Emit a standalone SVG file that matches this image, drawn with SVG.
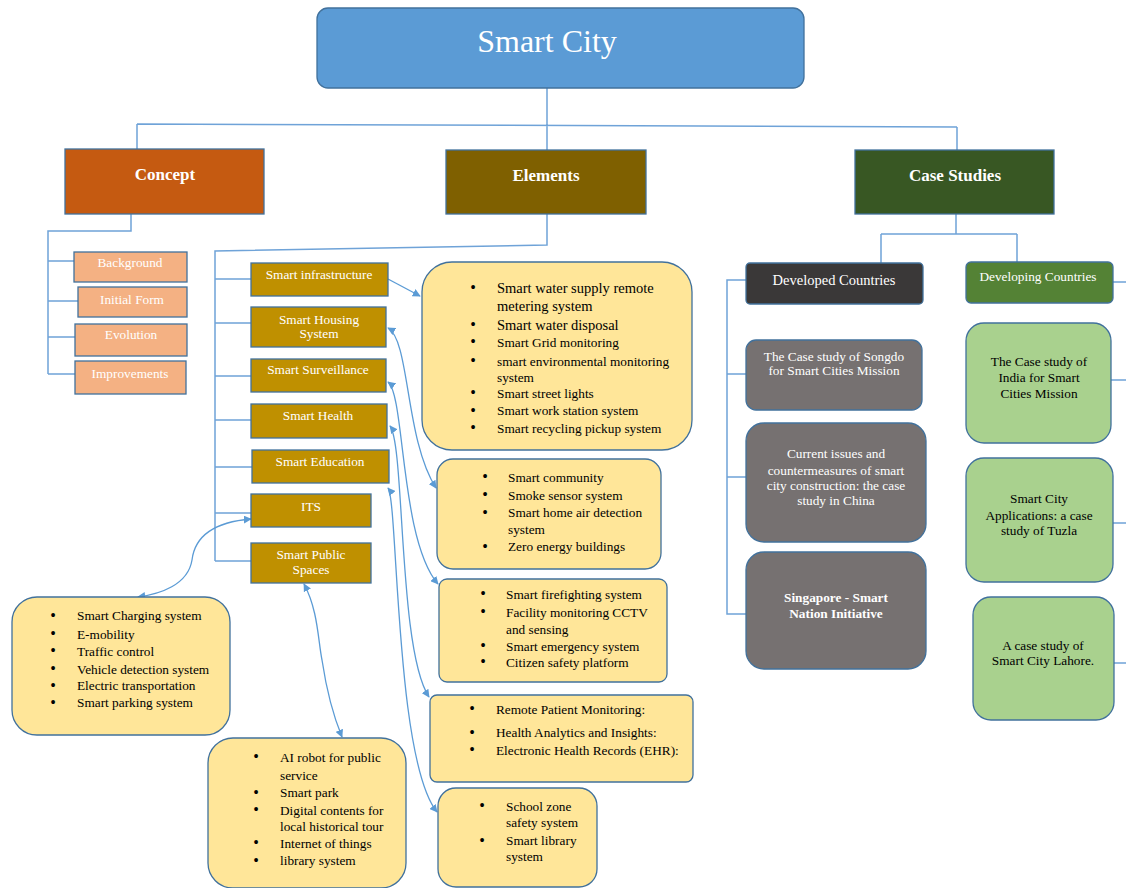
<svg xmlns="http://www.w3.org/2000/svg" width="1126" height="888" viewBox="0 0 1126 888">
<defs>
<marker id="arr" viewBox="0 0 10 10" refX="9" refY="5" markerWidth="8" markerHeight="8" markerUnits="userSpaceOnUse" orient="auto-start-reverse">
<path d="M0,0 L10,5 L0,10 Z" fill="#5B9BD5"/>
</marker>
<style>
text{font-family:"Liberation Serif","Times New Roman",serif}
.w{fill:#fff;text-anchor:middle;font-size:13.3px}
.b{fill:#000;font-size:13.3px}
.bl{fill:#000;font-size:16px;text-anchor:middle}
.c{fill:#000;text-anchor:middle;font-size:13.3px}
.hd{fill:#fff;text-anchor:middle;font-size:17px;font-weight:bold}
.nd{stroke:#41719C;stroke-width:1.3}
.tree{fill:none;stroke:#6FA3D8;stroke-width:1.5}
.cv{fill:none;stroke:#5B9BD5;stroke-width:1.3}
.el{fill:#BF9000}
.cs{fill:#F4B183}
.yl{fill:#FFE699}
.gr{fill:#767171}
.lg{fill:#A9D18E}
</style>
</defs>
<rect width="1126" height="888" fill="#fff"/>

<g id="connectors">
<path class="tree" d="M547,88 V125 M137,124 L957,127 M137,124 V149 M547,125 V150 M957,127 V150"/>
<path class="tree" d="M131,214 V231 H48 V374 M48,261 H74 M48,301 H78 M48,337 H75 M48,374 H75"/>
<path class="tree" d="M547,214 V245 L215,251 V561 M215,279 H251 M215,323 H251 M215,376 H251 M215,420 H251 M215,467 H252 M215,513 H251 M215,561 H251"/>
<path class="tree" d="M956,214 V234 M881,234 H1017 M881,234 V263 M1017,234 V262"/>
<path class="tree" d="M746,280 H727 V614 H746 M727,374 H746 M727,477 H746"/>
<path class="tree" d="M1113,282 H1126 M1111,380 H1126 M1113,523 H1126 M1114,663 H1126"/>
<path class="cv" d="M388,279 L420,296" marker-end="url(#arr)"/>
<path class="cv" d="M388,328 C410,340 405,440 436,488" marker-start="url(#arr)" marker-end="url(#arr)"/>
<path class="cv" d="M388,382 C405,395 400,540 438,584" marker-start="url(#arr)" marker-end="url(#arr)"/>
<path class="cv" d="M390,426 C405,445 398,650 429,697" marker-start="url(#arr)" marker-end="url(#arr)"/>
<path class="cv" d="M388,488 C398,500 395,760 437,812" marker-start="url(#arr)" marker-end="url(#arr)"/>
<path class="cv" d="M251,519 C215,522 195,535 192,560 C188,585 160,594 138,597" marker-start="url(#arr)" marker-end="url(#arr)"/>
<path class="cv" d="M304,584 C318,610 318,640 322,660 C328,700 335,720 342,737" marker-start="url(#arr)" marker-end="url(#arr)"/>
</g>

<g id="smart-city">
<rect class="nd" x="317" y="8" width="487" height="80" rx="11" fill="#5B9BD5"/>
<text x="547" y="52" fill="#fff" text-anchor="middle" font-size="32">Smart City</text>
</g>

<g id="concept">
<rect class="nd" x="65" y="149" width="199" height="65" fill="#C55A11"/>
<text class="hd" x="165" y="180">Concept</text>
</g>
<g id="elements">
<rect class="nd" x="446" y="150" width="200" height="64" fill="#7F6000"/>
<text class="hd" x="546" y="181">Elements</text>
</g>
<g id="case-studies">
<rect class="nd" x="855" y="150" width="199" height="64" fill="#385723"/>
<text class="hd" x="955" y="181">Case Studies</text>
</g>

<g id="background"><rect class="nd cs" x="74" y="252" width="113" height="30"/><text class="w" x="130" y="267.3">Background</text></g>
<g id="initial-form"><rect class="nd cs" x="78" y="287" width="109" height="30"/><text class="w" x="132" y="303.6">Initial Form</text></g>
<g id="evolution"><rect class="nd cs" x="75" y="324" width="112" height="32"/><text class="w" x="131" y="338.6">Evolution</text></g>
<g id="improvements"><rect class="nd cs" x="75" y="361" width="111" height="33"/><text class="w" x="130" y="377.6">Improvements</text></g>

<g id="smart-infrastructure"><rect class="nd el" x="251" y="263" width="137" height="33"/><text class="w" x="319" y="278.9">Smart infrastructure</text></g>
<g id="smart-housing"><rect class="nd el" x="251" y="307" width="135" height="40"/><text class="w" x="319" y="323.6">Smart Housing</text><text class="w" x="319" y="337.9">System</text></g>
<g id="smart-surveillance"><rect class="nd el" x="251" y="359" width="135" height="33"/><text class="w" x="318" y="373.9">Smart Surveillance</text></g>
<g id="smart-health"><rect class="nd el" x="251" y="404" width="136" height="34"/><text class="w" x="318" y="419.6">Smart Health</text></g>
<g id="smart-education"><rect class="nd el" x="252" y="450" width="137" height="33"/><text class="w" x="320" y="466.3">Smart Education</text></g>
<g id="its"><rect class="nd el" x="251" y="494" width="120" height="33"/><text class="w" x="311" y="511.3">ITS</text></g>
<g id="smart-public-spaces"><rect class="nd el" x="251" y="543" width="120" height="40"/><text class="w" x="311" y="558.6">Smart Public</text><text class="w" x="311" y="573.6">Spaces</text></g>

<g id="infra-list">
<rect class="nd yl" x="422" y="262" width="270" height="188" rx="30"/>
<text class="bl" x="473" y="293">•</text><text class="b" x="497" y="292.7" style="font-size:14.5px">Smart water supply remote</text>
<text class="b" x="497" y="310.7" style="font-size:14.5px">metering system</text>
<text class="bl" x="473" y="330.3">•</text><text class="b" x="497" y="330" style="font-size:14.5px">Smart water disposal</text>
<text class="bl" x="473" y="347.2">•</text><text class="b" x="497" y="346.9">Smart Grid monitoring</text>
<text class="bl" x="473" y="365.9">•</text><text class="b" x="497" y="365.6">smart environmental monitoring</text>
<text class="b" x="497" y="382.3">system</text>
<text class="bl" x="473" y="398.2">•</text><text class="b" x="497" y="397.9">Smart street lights</text>
<text class="bl" x="473" y="415.6">•</text><text class="b" x="497" y="415.3">Smart work station system</text>
<text class="bl" x="473" y="433.2">•</text><text class="b" x="497" y="432.9">Smart recycling pickup system</text>
</g>

<g id="housing-list">
<rect class="nd yl" x="437" y="459" width="224" height="110" rx="16"/>
<text class="bl" x="485" y="482.2">•</text><text class="b" x="508" y="481.9">Smart community</text>
<text class="bl" x="485" y="499.9">•</text><text class="b" x="508" y="499.6">Smoke sensor system</text>
<text class="bl" x="485" y="517.6">•</text><text class="b" x="508" y="517.3">Smart home air detection</text>
<text class="b" x="508" y="533.9">system</text>
<text class="bl" x="485" y="551.6">•</text><text class="b" x="508" y="551.3">Zero energy buildings</text>
</g>

<g id="surveillance-list">
<rect class="nd yl" x="439" y="579" width="228" height="103" rx="8"/>
<text class="bl" x="483" y="598.9">•</text><text class="b" x="506" y="598.6">Smart firefighting system</text>
<text class="bl" x="483" y="617.2">•</text><text class="b" x="506" y="616.9">Facility monitoring CCTV</text>
<text class="b" x="506" y="633.6">and sensing</text>
<text class="bl" x="483" y="650.9">•</text><text class="b" x="506" y="650.6">Smart emergency system</text>
<text class="bl" x="483" y="667.2">•</text><text class="b" x="506" y="666.9">Citizen safety platform</text>
</g>

<g id="health-list">
<rect class="nd yl" x="430" y="695" width="263" height="87" rx="7"/>
<text class="bl" x="472" y="714.2">•</text><text class="b" x="496" y="713.9">Remote Patient Monitoring:</text>
<text class="bl" x="472" y="737.6">•</text><text class="b" x="496" y="737.3">Health Analytics and Insights:</text>
<text class="bl" x="472" y="754.9">•</text><text class="b" x="496" y="754.6">Electronic Health Records (EHR):</text>
</g>

<g id="education-list">
<rect class="nd yl" x="438" y="788" width="159" height="99" rx="18"/>
<text class="bl" x="482" y="810.9">•</text><text class="b" x="506" y="810.6">School zone</text>
<text class="b" x="506" y="827.3">safety system</text>
<text class="bl" x="482" y="845.6">•</text><text class="b" x="506" y="845.3">Smart library</text>
<text class="b" x="506" y="861.3">system</text>
</g>

<g id="its-list">
<rect class="nd yl" x="12" y="597" width="218" height="138" rx="25"/>
<text class="bl" x="53" y="620.6">•</text><text class="b" x="77" y="620.3">Smart Charging system</text>
<text class="bl" x="53" y="638.9">•</text><text class="b" x="77" y="638.6">E-mobility</text>
<text class="bl" x="53" y="655.9">•</text><text class="b" x="77" y="655.6">Traffic control</text>
<text class="bl" x="53" y="673.9">•</text><text class="b" x="77" y="673.6">Vehicle detection system</text>
<text class="bl" x="53" y="690.6">•</text><text class="b" x="77" y="690.3">Electric transportation</text>
<text class="bl" x="53" y="707.6">•</text><text class="b" x="77" y="707.3">Smart parking system</text>
</g>

<g id="public-list">
<rect class="nd yl" x="208" y="738" width="198" height="150" rx="25"/>
<text class="bl" x="256" y="762.2">•</text><text class="b" x="280" y="761.9">AI robot for public</text>
<text class="b" x="280" y="779.6">service</text>
<text class="bl" x="256" y="797.6">•</text><text class="b" x="280" y="797.3">Smart park</text>
<text class="bl" x="256" y="814.9">•</text><text class="b" x="280" y="814.6">Digital contents for</text>
<text class="b" x="280" y="831.3">local historical tour</text>
<text class="bl" x="256" y="848.2">•</text><text class="b" x="280" y="847.9">Internet of things</text>
<text class="bl" x="256" y="865.6">•</text><text class="b" x="280" y="865.3">library system</text>
</g>

<g id="developed-countries">
<rect class="nd" x="746" y="263" width="177" height="41" rx="4" fill="#3A3838"/>
<text class="w" x="834" y="285" style="font-size:14.5px">Developed Countries</text>
</g>
<g id="songdo">
<rect class="nd gr" x="746" y="340" width="176" height="70" rx="10"/>
<text class="w" x="834" y="361.3">The Case study of Songdo</text>
<text class="w" x="834" y="374.6">for Smart Cities Mission</text>
</g>
<g id="china">
<rect class="nd gr" x="746" y="423" width="180" height="119" rx="18"/>
<text class="w" x="836" y="457.9">Current issues and</text>
<text class="w" x="836" y="474.6">countermeasures of smart</text>
<text class="w" x="836" y="489.6">city construction: the case</text>
<text class="w" x="836" y="504.6">study in China</text>
</g>
<g id="singapore">
<rect class="nd gr" x="746" y="552" width="180" height="117" rx="18"/>
<text class="w" x="836" y="602.3" font-weight="bold">Singapore - Smart</text>
<text class="w" x="836" y="617.9" font-weight="bold">Nation Initiative</text>
</g>

<g id="developing-countries">
<rect class="nd" x="966" y="262" width="147" height="41" rx="5" fill="#548235"/>
<text class="w" x="1038" y="280.6">Developing Countries</text>
</g>
<g id="india">
<rect class="nd lg" x="966" y="323" width="145" height="120" rx="18"/>
<text class="c" x="1039" y="366.3">The Case study of</text>
<text class="c" x="1039" y="381.9">India for Smart</text>
<text class="c" x="1039" y="397.9">Cities Mission</text>
</g>
<g id="tuzla">
<rect class="nd lg" x="966" y="458" width="147" height="124" rx="18"/>
<text class="c" x="1039" y="502.9">Smart City</text>
<text class="c" x="1039" y="519.6">Applications: a case</text>
<text class="c" x="1039" y="534.6">study of Tuzla</text>
</g>
<g id="lahore">
<rect class="nd lg" x="973" y="597" width="141" height="123" rx="18"/>
<text class="c" x="1043" y="649.6">A case study of</text>
<text class="c" x="1043" y="665.3">Smart City Lahore.</text>
</g>
</svg>
